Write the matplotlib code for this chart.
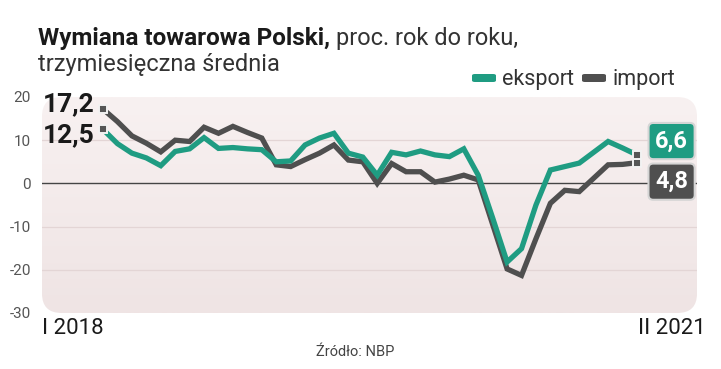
import matplotlib.pyplot as plt
from matplotlib.patches import FancyBboxPatch
from matplotlib.colors import LinearSegmentedColormap
import numpy as np

# dane: proc. r/r, srednia 3-miesieczna, I 2018 - II 2021
eksport = [12.5, 9.2, 7.0, 5.9, 4.1, 7.4, 8.0, 10.6, 8.1, 8.3, 8.0, 7.8,
           5.0, 5.2, 8.9, 10.5, 11.6, 7.0, 6.1, 1.9, 7.2, 6.6, 7.5, 6.6,
           6.2, 8.0, 1.9, -8.0, -18.2, -15.1, -5.0, 3.1, 3.9, 4.7, 7.2, 9.7,
           8.2, 6.6]
imp = [17.2, 14.3, 11.0, 9.3, 7.3, 10.0, 9.7, 13.0, 11.6, 13.2, 11.8, 10.5,
       4.3, 3.9, 5.5, 7.0, 8.9, 5.4, 5.0, 0.0, 4.6, 2.7, 2.7, 0.3,
       1.0, 1.9, 0.8, -9.5, -19.8, -21.3, -12.8, -4.6, -1.6, -1.9, 1.2, 4.3,
       4.4, 4.8]
yticks = [20, 10, 0, -10, -20, -30]
x_first, x_last = "I 2018", "II 2021"

TEAL = "#1f9c82"
GRAY = "#4f4f4f"
plt.rcParams["font.family"] = ["Roboto", "DejaVu Sans"]

W, H = 721, 369
fig = plt.figure(figsize=(W / 100, H / 100), dpi=100)
ax = fig.add_axes([42 / W, (H - 313) / H, (697 - 42) / W, (313 - 97) / H])
ax.patch.set_visible(False)
for s in ax.spines.values():
    s.set_visible(False)

x = np.arange(len(eksport))
ax.set_xlim(-4.23, 41.16)
ax.set_ylim(-30, 20)

# tlo z lekkim gradientem (jasniejsze u gory), zaokraglone rogi
bg = FancyBboxPatch((0, 0), 1, 1, boxstyle="round,pad=0,rounding_size=0.03",
                    mutation_aspect=3.0, transform=ax.transAxes,
                    facecolor="none", edgecolor="none", zorder=0)
ax.add_patch(bg)
grad = np.linspace(0, 1, 100).reshape(-1, 1)
cmap = LinearSegmentedColormap.from_list("bg", ["#efe4e4", "#f8f1f1"])
im = ax.imshow(grad, cmap=cmap, aspect="auto", origin="lower",
               extent=(0, 1, 0, 1), transform=ax.transAxes, zorder=0)
im.set_clip_path(bg)

for g in [10, -10, -20]:
    ax.axhline(g, color="#e3d5d5", lw=0.9, zorder=1)
ax.axhline(0, color="#444444", lw=1.0, zorder=2)

ax.plot(x, imp, color=GRAY, lw=3.8, zorder=3, solid_joinstyle="miter")
ax.plot(x, eksport, color=TEAL, lw=3.8, zorder=4, solid_joinstyle="miter")

# markery na poczatku i koncu
for ser in (imp, eksport):
    ax.plot([x[0], x[-1]], [ser[0], ser[-1]], ls="none", marker="s", ms=6,
            mfc="#555555", mec="#f2f2f2", mew=1.4, zorder=6)

ax.set_yticks(yticks)
ax.set_yticklabels([str(t) for t in yticks])
ax.tick_params(axis="y", length=0, pad=8, labelsize=11, labelcolor="#555555")
ax.set_xticks([])

# etykiety poczatkowe
ax.text(-0.6, 18.4, "17,2", ha="right", va="center", fontsize=19,
        fontweight="bold", color="#1a1a1a")
ax.text(-0.6, 11.2, "12,5", ha="right", va="center", fontsize=19,
        fontweight="bold", color="#1a1a1a")

# etykiety koncowe
box = dict(boxstyle="round,pad=0.28,rounding_size=0.2", ec="#d5d5d5", lw=1.5)
ax.text(39.4, 9.8, "6,6", ha="center", va="center", fontsize=17,
        fontweight="bold", color="white", zorder=7, bbox=dict(box, fc=TEAL))
ax.text(39.4, 0.4, "4,8", ha="center", va="center", fontsize=17,
        fontweight="bold", color="white", zorder=7, bbox=dict(box, fc=GRAY))

# tytul
t1 = fig.text(38 / W, 1 - 38 / H, "Wymiana towarowa Polski,", fontsize=17.5,
              fontweight="bold", color="#1a1a1a", va="center")
fig.canvas.draw()
bb = t1.get_window_extent()
fig.text((bb.x1 + 6) / W, 1 - 38 / H, "proc. rok do roku,", fontsize=17,
         color="#333333", va="center")
fig.text(38 / W, 1 - 64 / H, "trzymiesięczna średnia", fontsize=17,
         color="#333333", va="center")

# legenda
for xp, col, lab in [(472, TEAL, "eksport"), (582, GRAY, "import")]:
    fig.patches.append(FancyBboxPatch((xp / W, 1 - 82 / H), 24 / W, 8 / H,
                                      boxstyle="round,pad=0,rounding_size=0.004",
                                      transform=fig.transFigure, fc=col, ec="none"))
    fig.text((xp + 30) / W, 1 - 79 / H, lab, fontsize=15.5, color="#333333",
             va="center")

# os x
fig.text(42 / W, 1 - 328 / H, x_first, fontsize=16, color="#1a1a1a", va="center")
fig.text(706 / W, 1 - 328 / H, x_last, fontsize=16, color="#1a1a1a",
         va="center", ha="right")
fig.text(355 / W, 1 - 352 / H, "Źródło: NBP", fontsize=10.5, color="#444444",
         va="center", ha="center")

fig.savefig("out.png", dpi=100)
